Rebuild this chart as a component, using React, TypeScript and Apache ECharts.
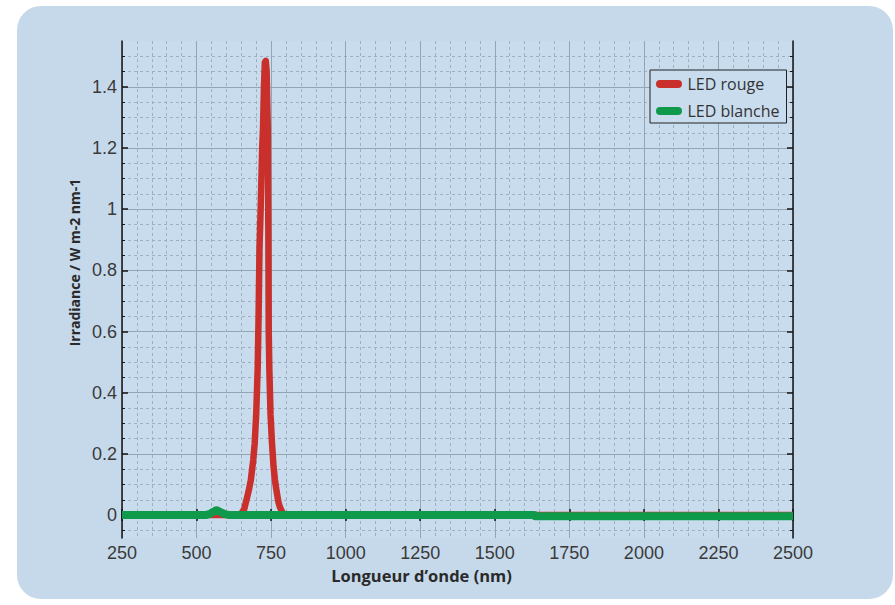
import React, { useEffect, useRef } from "react";
import * as echarts from "echarts";

const seriesNames = ["LED rouge", "LED blanche"];

// Red LED spectrum: [wavelength nm, irradiance]
const redLed: [number, number][] = [
  [250, 0], [560, 0], [640, 0], [650, 0.005], [660, 0.02], [665, 0.04], [670, 0.06],
  [675, 0.08], [682, 0.114], [690, 0.18], [695, 0.235], [700, 0.33], [705, 0.48],
  [708, 0.65], [711, 0.87], [715, 1.0], [720, 1.2], [723, 1.27], [726, 1.4],
  [729, 1.48], [732, 1.485], [735, 1.45], [737, 1.35], [739, 1.26], [741, 0.87],
  [742, 0.6], [744, 0.48], [748, 0.33], [753, 0.235], [758, 0.16], [763, 0.114],
  [768, 0.08], [775, 0.04], [780, 0.025], [786, 0.012], [795, 0], [800, 0], [2500, 0],
];

// White LED spectrum
const whiteLed: [number, number][] = [
  [250, 0], [530, 0], [545, 0.004], [555, 0.01], [567, 0.016], [580, 0.01],
  [595, 0.003], [610, 0], [1633, 0], [1635, -0.004], [2500, -0.004],
];

const xTicksMin = 250;
const xTicksMax = 2500;
const xTickStep = 250;

const yMajorTicks = [0, 0.2, 0.4, 0.6, 0.8, 1, 1.2, 1.4];
const yMinorTicks = [
  -0.05, 0.05, 0.1, 0.15, 0.25, 0.3, 0.35, 0.45, 0.5, 0.55, 0.65, 0.7, 0.75,
  0.85, 0.9, 0.95, 1.05, 1.1, 1.15, 1.25, 1.3, 1.35, 1.45, 1.5,
];
const yMin = -0.075;
const yMax = 1.55;

const xName = "Longueur d\u2019onde (nm)";
const yName = "Irradiance / W m-2 nm-1";

export default function App() {
  const ref = useRef<HTMLDivElement>(null);

  useEffect(() => {
    document.body.style.margin = "0";
    const chart = echarts.init(ref.current!, null, { renderer: "svg" });
    const axisColor = "#151515";
    const majorGrid = { color: "#95a4b3", width: 1, type: "solid" as const };
    const minorGrid = { color: "#9eafbf", width: 1, type: [3, 3] as any };
    const tickFont = { fontSize: 18, color: "#3a3a3a", fontFamily: "Liberation Sans" };
    const plain = (v: number) => String(v);

    const baseY = {
      type: "value" as const,
      gridIndex: 0,
      min: yMin,
      max: yMax,
    };

    chart.setOption({
      animation: false,
      backgroundColor: "#ffffff",
      graphic: [
        {
          type: "rect",
          z: -100,
          silent: true,
          shape: { x: 17, y: 6, width: 876, height: 593, r: 24 },
          style: { fill: "#c6d9eb" },
        },
      ],
      grid: {
        left: 122,
        top: 41,
        width: 671,
        height: 497,
        show: true,
        backgroundColor: "#c9dcee",
        borderWidth: 0,
      },
      legend: {
        data: seriesNames,
        orient: "vertical",
        left: 650,
        top: 70,
        padding: [6, 7, 4, 6],
        itemWidth: 27,
        itemHeight: 8,
        itemGap: 11,
        icon: "path://M4,0 L22,0 A4,4 0 0 1 22,8 L4,8 A4,4 0 0 1 4,0 Z",
        backgroundColor: "#c9dcee",
        borderColor: "#222",
        borderWidth: 1,
        borderRadius: 0,
        textStyle: { fontSize: 16, color: "#333", fontFamily: "Open Sans" },
      },
      xAxis: [
        {
          type: "value",
          position: "bottom",
          min: xTicksMin,
          max: xTicksMax,
          interval: xTickStep,
          name: xName,
          nameLocation: "middle",
          nameGap: 29,
          nameTextStyle: {
            fontSize: 16.5,
            fontWeight: "bold",
            color: "#2a2a2a",
            fontFamily: "Open Sans",
            padding: [0, 72, 0, 0],
          },
          axisLine: { show: true, lineStyle: { color: axisColor, width: 1.5 } },
          axisTick: { show: true, inside: true, length: 6, lineStyle: { color: axisColor, width: 1.5 } },
          minorTick: { show: true, splitNumber: 5, length: 3, lineStyle: { color: axisColor, width: 1 } },
          axisLabel: { ...tickFont, margin: 6, formatter: plain },
          splitLine: { show: true, lineStyle: majorGrid },
          minorSplitLine: { show: true, lineStyle: minorGrid },
        },
        {
          type: "value",
          position: "top",
          min: xTicksMin,
          max: xTicksMax,
          interval: xTickStep,
          axisLine: { show: true, lineStyle: { color: axisColor, width: 1.5 } },
          axisTick: { show: true, inside: true, length: 6, lineStyle: { color: axisColor, width: 1.5 } },
          minorTick: { show: true, splitNumber: 5, length: 3, lineStyle: { color: axisColor, width: 1 } },
          axisLabel: { show: false },
          splitLine: { show: false },
        },
      ],
      yAxis: [
        {
          ...baseY,
          position: "left",
          name: yName,
          nameLocation: "middle",
          nameGap: 40,
          nameTextStyle: {
            fontSize: 14,
            fontWeight: "bold",
            color: "#2a2a2a",
            fontFamily: "Open Sans",
            padding: [0, 0, 0, 54],
          },
          axisLine: { show: true, lineStyle: { color: axisColor, width: 1.5 } },
          axisTick: { show: true, inside: true, length: 6, customValues: yMajorTicks, lineStyle: { color: axisColor, width: 1.5 } },
          axisLabel: { ...tickFont, margin: 5, customValues: yMajorTicks, formatter: plain },
          splitLine: { show: true, lineStyle: majorGrid },
        },
        {
          ...baseY,
          position: "left",
          axisLine: { show: false },
          axisTick: { show: true, inside: true, length: 3, customValues: yMinorTicks, lineStyle: { color: axisColor, width: 1 } },
          axisLabel: { show: false, customValues: yMinorTicks },
          splitLine: { show: true, lineStyle: minorGrid },
        },
        {
          ...baseY,
          position: "right",
          axisLine: { show: true, lineStyle: { color: axisColor, width: 1.5 } },
          axisTick: { show: true, inside: true, length: 6, customValues: yMajorTicks, lineStyle: { color: axisColor, width: 1.5 } },
          axisLabel: { show: false, customValues: yMajorTicks },
          splitLine: { show: false },
        },
        {
          ...baseY,
          position: "right",
          axisLine: { show: false },
          axisTick: { show: true, inside: true, length: 3, customValues: yMinorTicks, lineStyle: { color: axisColor, width: 1 } },
          axisLabel: { show: false, customValues: yMinorTicks },
          splitLine: { show: false },
        },
      ],
      series: [
        {
          name: seriesNames[0],
          type: "line",
          xAxisIndex: 0,
          yAxisIndex: 0,
          data: redLed,
          showSymbol: false,
          symbol: "none",
          itemStyle: { color: "#c9302c" },
          lineStyle: { color: "#c9302c", width: 6.5, join: "round" },
          z: 3,
        },
        {
          name: seriesNames[1],
          type: "line",
          xAxisIndex: 0,
          yAxisIndex: 0,
          data: whiteLed,
          showSymbol: false,
          symbol: "none",
          itemStyle: { color: "#0e9a4a" },
          lineStyle: { color: "#0e9a4a", width: 8, join: "round" },
          z: 4,
        },
      ],
    });
    return () => chart.dispose();
  }, []);

  return (
    <div
      ref={ref}
      style={{ position: "absolute", left: 0, top: 0, width: 895, height: 605 }}
    />
  );
}
